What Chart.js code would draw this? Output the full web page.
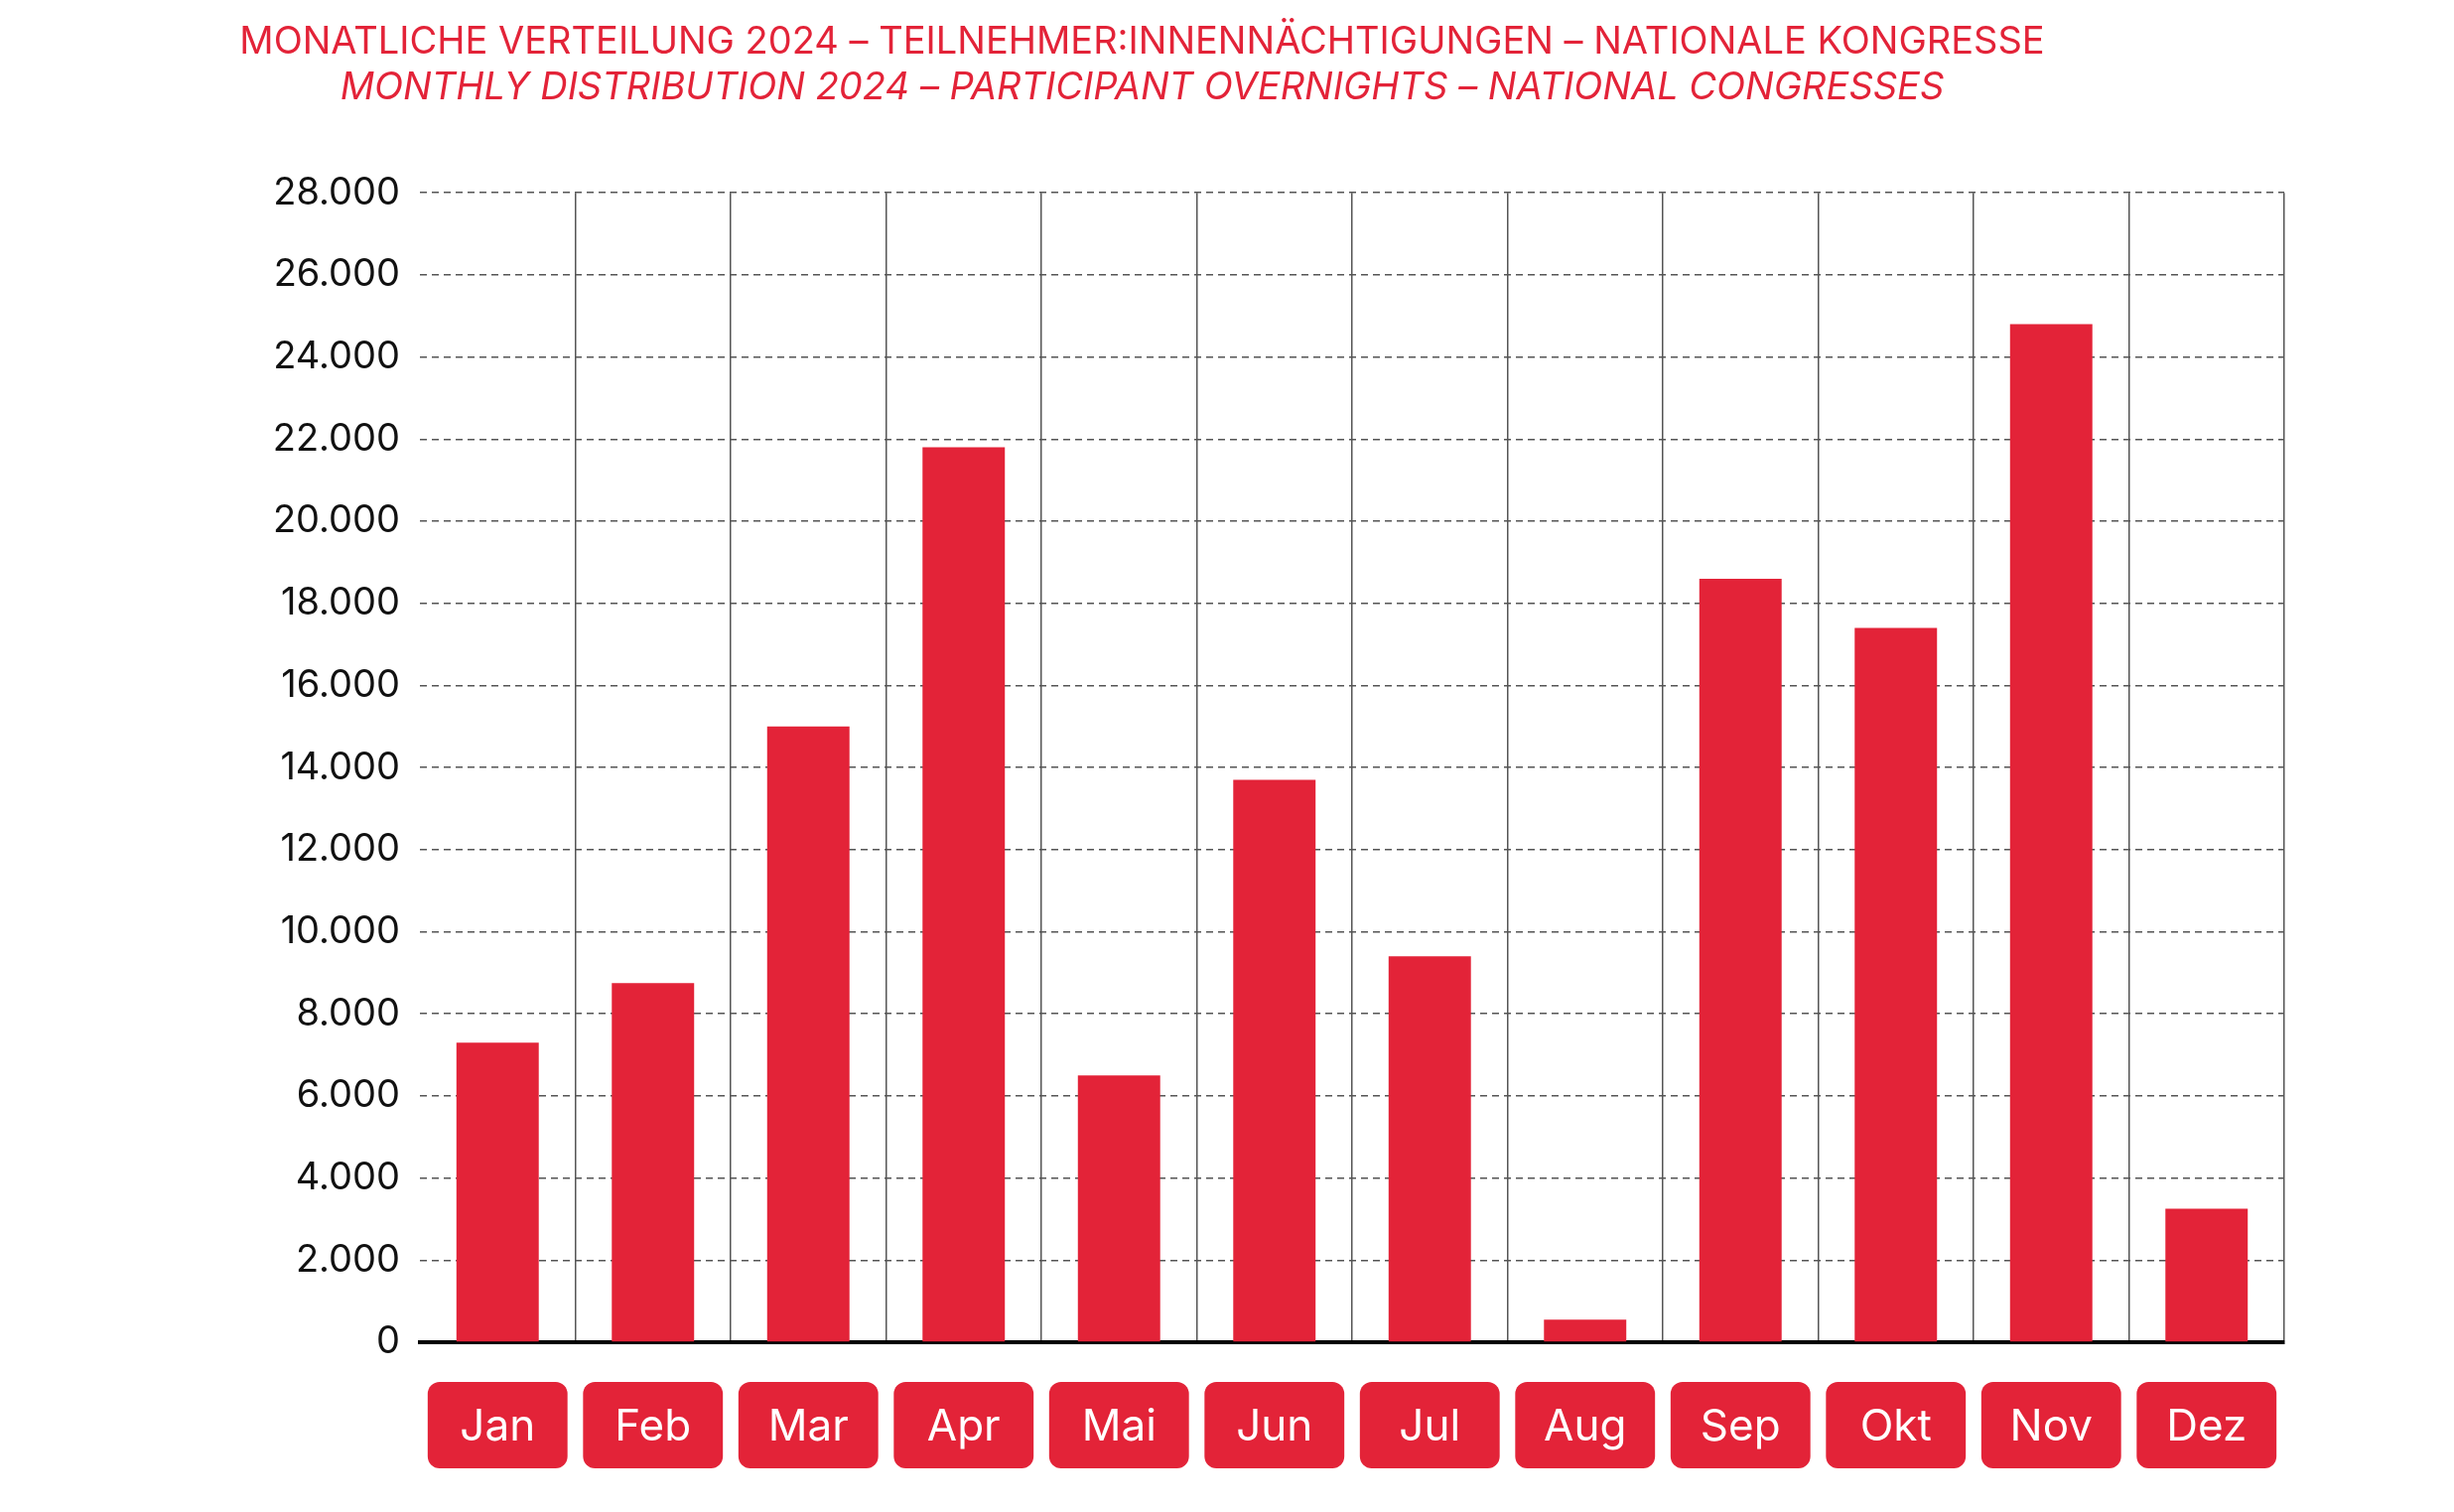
<!DOCTYPE html>
<html><head><meta charset="utf-8">
<script src="https://cdn.jsdelivr.net/npm/chart.js@4/dist/chart.umd.min.js"></script>
<style>html,body{margin:0;padding:0;background:#fff}#w{width:2472px;height:1523px}</style>
</head><body><div id="w"><canvas id="c"></canvas></div>
<script>
const months = ["Jan","Feb","Mar","Apr","Mai","Jun","Jul","Aug","Sep","Okt","Nov","Dez"];
const overnights = [7300,8750,15000,21800,6500,13700,9400,550,18600,17400,24800,3250];
const yMax = 28000, yStep = 2000;
const titleDe = "MONATLICHE VERTEILUNG 2024 – TEILNEHMER:INNENNÄCHTIGUNGEN – NATIONALE KONGRESSE";
const titleEn = "MONTHLY DISTRIBUTION 2024 – PARTICIPANT OVERNIGHTS – NATIONAL CONGRESSES";
const RED = "#e32338";
const FONT = "Inter, 'Noto Sans', sans-serif";

const labelBoxes = {
  id: 'labelBoxes',
  afterDraw(chart) {
    const ctx = chart.ctx, x = chart.scales.x;
    const catW = x.width / months.length;
    const bw = catW * 0.9, top = 1392, h = 87, r = 12;
    ctx.save();
    months.forEach((m, i) => {
      const cx = x.getPixelForValue(i);
      ctx.fillStyle = RED;
      ctx.beginPath();
      ctx.roundRect(cx - bw/2, top, bw, h, r);
      ctx.fill();
      ctx.fillStyle = "#fff";
      ctx.font = "44px " + FONT;
      ctx.textAlign = "center";
      ctx.textBaseline = "middle";
      ctx.fillText(m, cx, top + h/2 + 2);
    });
    ctx.restore();
  }
};

new Chart(document.getElementById('c'), {
  type: 'bar',
  data: { labels: months, datasets: [{ data: overnights, backgroundColor: RED, barPercentage: 0.53, categoryPercentage: 1 }] },
  plugins: [labelBoxes],
  options: {
    responsive: true, maintainAspectRatio: false, animation: false,
    layout: { padding: { left: 0, right: 171, bottom: 171, top: 0 } },
    plugins: {
      legend: { display: false }, tooltip: { enabled: false },
      title: { display: true, text: titleDe, color: RED, font: { family: FONT, size: 38, weight: 'normal' }, padding: { top: 20, bottom: 0 } },
      subtitle: { display: true, text: titleEn, color: RED, font: { family: FONT, size: 38, style: 'italic', weight: 'normal' }, padding: { top: 0, bottom: 83 } }
    },
    scales: {
      x: {
        ticks: { display: false },
        grid: { offset: true, color: (c) => (c.index === 0 ? 'rgba(0,0,0,0)' : '#555'), lineWidth: 1.5, drawTicks: false },
        border: { display: true, color: '#000', width: 4, dash: [] }
      },
      y: {
        min: 0, max: yMax,
        afterFit: (s) => { s.width = 423; },
        ticks: { stepSize: yStep, color: '#111', padding: 20, font: { family: FONT, size: 38 },
          callback: (v) => v.toLocaleString('de-DE') },
        grid: { color: '#555', lineWidth: 1.5, drawTicks: false },
        border: { display: false, dash: [7, 5] }
      }
    }
  }
});
</script></body></html>
